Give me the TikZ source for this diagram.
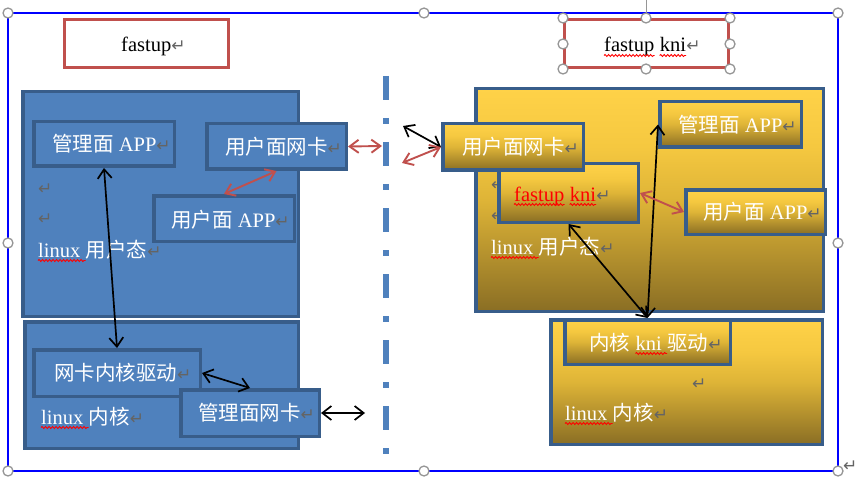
\documentclass[tikz,border=0pt]{standalone}
\usepackage{fontspec}
\setmainfont{Liberation Serif}
\newfontfamily\cjkf{Noto Sans CJK SC}
\newfontfamily\pilfam{DejaVu Sans}
\usetikzlibrary{arrows.meta,decorations.pathmorphing}
\definecolor{lfill}{RGB}{79,129,189}
\definecolor{lborder}{RGB}{56,93,138}
\definecolor{wred}{RGB}{192,80,77}
\definecolor{pilgray}{RGB}{100,100,100}
\definecolor{hgray}{RGB}{150,150,150}
\definecolor{gtop}{RGB}{255,210,72}
\definecolor{gup}{RGB}{245,200,64}
\definecolor{gmid}{RGB}{222,180,55}
\definecolor{gbot}{RGB}{138,110,36}
\pgfdeclareverticalshading{goldgrad}{100bp}{color(0bp)=(gbot); color(25bp)=(gbot); color(50bp)=(gmid); color(62bp)=(gup); color(75bp)=(gtop); color(100bp)=(gtop)}
\newcommand\pil{{\pilfam\fontsize{17}{19}\selectfont\textcolor{pilgray}{↵}}}
\newcommand\zh[1]{{\cjkf #1}}
\newcommand\wsp{\kern5.1pt}
\begin{document}
\begin{tikzpicture}[x=1pt,y=-1pt,
  lbox/.style={draw=lborder, fill=lfill, line width=3.5pt, inner sep=0pt},
  gbox/.style={draw=lborder, shading=goldgrad, line width=3.5pt, inner sep=0pt},
  rbox/.style={draw=wred, fill=white, line width=3pt, inner sep=0pt},
  txt/.style={inner sep=0pt, anchor=base west, text=white, font=\fontsize{20.5}{24}\selectfont},
  pnode/.style={inner sep=0pt, anchor=base west, text=pilgray, font=\pilfam\fontsize{17}{19}\selectfont},
  squig/.style={draw=red, line width=0.9pt, decorate, decoration={snake, amplitude=1pt, segment length=3.5pt}},
  barrow/.style={draw=black, line width=1.7pt, {Straight Barb[length=9pt,width=14pt]}-{Straight Barb[length=9pt,width=14pt]}},
  rarrow/.style={draw=wred, line width=1.9pt, {Straight Barb[length=9pt,width=13pt]}-{Straight Barb[length=9pt,width=13pt]}},
  handle/.style={draw=hgray, fill=white, line width=1.3pt},
  divider/.style={draw=lfill, line width=6pt, dash pattern=on 24pt off 18pt on 6pt off 18pt}
]
\useasboundingbox (0,0) rectangle (857,484);

% canvas frame
\draw[blue, line width=2pt] (8,13) rectangle (838,471);

% titles
\node[rbox, minimum width=164pt, minimum height=48pt] (fastup) at (146.5,43.5) {};
\node[txt, text=black] (tfastup) at (121,52) {fastup\pil};
\draw[hgray, line width=1pt] (646,0) -- (646,18);
\node[rbox, minimum width=164pt, minimum height=48pt] (fastupkni) at (646.5,43.5) {};
\node[txt, text=black] (tfk1) at (604,52) {fastup};
\node[txt, text=black] (tfk2) at ([xshift=5.1pt]tfk1.base east) {kni};
\node[pnode] (tfk3) at (tfk2.base east) {↵};
\draw[squig] ([yshift=-3.5pt]tfk1.base west) -- ([yshift=-3.5pt]tfk1.base east);
\draw[squig] ([yshift=-3.5pt]tfk2.base west) -- ([yshift=-3.5pt]tfk2.base east);

% divider
\coordinate (divtop) at (386,76);
\coordinate (divbot) at (386,454);
\draw[divider] (divtop) -- (divbot);

% left side
\node[lbox, minimum width=275.5pt, minimum height=224.5pt] (luser) at (160.5,204) {};
\node[lbox, minimum width=273.5pt, minimum height=126.5pt] (lkern) at (161.5,385) {};
\node[lbox, minimum width=140.5pt, minimum height=44.5pt] (lmapp) at (104,144) {};
\node[lbox, minimum width=139.5pt, minimum height=45.5pt] (lunic) at (276.5,146.5) {};
\node[lbox, minimum width=140.5pt, minimum height=45.5pt] (luapp) at (224,218.5) {};
\node[lbox, minimum width=166.5pt, minimum height=46.5pt] (ldrv) at (117,373) {};
\node[lbox, minimum width=138.5pt, minimum height=46.5pt] (lmnic) at (250,413) {};

\node[txt] (tlmapp) at (52,152) {\zh{管理面} APP\pil};
\node[txt] (tlunic) at (225,154) {\zh{用户面网卡}\pil};
\node[txt] (tluapp) at (171,227) {\zh{用户面} APP\pil};
\node[pnode] (pl1) at (38,194) {↵};
\node[pnode] (pl2) at (38,224) {↵};
\node[txt] (tlu1) at (38,257) {linux\wsp};
\node[txt] (tlu2) at (tlu1.base east) {\zh{用户态}\pil};
\draw[squig] ([yshift=-3.5pt]tlu1.base west) -- ([yshift=-3.5pt]tlu1.base east);
\node[txt] (tldrv) at (54,380) {\zh{网卡内核驱动}\pil};
\node[txt] (tlmnic) at (198,420) {\zh{管理面网卡}\pil};
\node[txt] (tlk1) at (41,424) {linux\wsp};
\node[txt] (tlk2) at (tlk1.base east) {\zh{内核}\pil};
\draw[squig] ([yshift=-3.5pt]tlk1.base west) -- ([yshift=-3.5pt]tlk1.base east);

% right side
\node[gbox, minimum width=347.5pt, minimum height=222.5pt] (ruser) at (649.5,200) {};
\node[gbox, minimum width=271.5pt, minimum height=124.5pt] (rkern) at (686.5,382) {};
\node[gbox, minimum width=141.5pt, minimum height=45.5pt] (rmapp) at (730.5,124.5) {};
\node[gbox, minimum width=139.5pt, minimum height=44.5pt] (ruapp) at (755.5,212) {};
\node[pnode] (pr1) at (491,190) {↵};
\node[pnode] (pr2) at (491,221) {↵};
\node[gbox, minimum width=139.5pt, minimum height=58.5pt] (rkni) at (568.5,193) {};
\node[gbox, minimum width=140.5pt, minimum height=46.5pt] (runic) at (513,147) {};
\node[gbox, minimum width=165.5pt, minimum height=44.5pt] (rdrv) at (647.5,342) {};

\node[txt] (trunic) at (462,155) {\zh{用户面网卡}\pil};
\node[txt, text=red] (trk1) at (514,201) {fastup};
\node[txt, text=red] (trk2) at ([xshift=5.1pt]trk1.base east) {kni};
\node[pnode] (trk3) at (trk2.base east) {↵};
\draw[squig] ([yshift=-3.5pt]trk1.base west) -- ([yshift=-3.5pt]trk1.base east);
\draw[squig] ([yshift=-3.5pt]trk2.base west) -- ([yshift=-3.5pt]trk2.base east);
\node[txt] (trmapp) at (678,133) {\zh{管理面} APP\pil};
\node[txt] (truapp) at (703,219) {\zh{用户面} APP\pil};
\node[txt] (tru1) at (491,254) {linux\wsp};
\node[txt] (tru2) at (tru1.base east) {\zh{用户态}\pil};
\draw[squig] ([yshift=-3.5pt]tru1.base west) -- ([yshift=-3.5pt]tru1.base east);
\node[txt] (trd1) at (589,350) {\zh{内核}\wsp};
\node[txt] (trd2) at (trd1.base east) {kni\wsp};
\node[txt] (trd3) at (trd2.base east) {\zh{驱动}\pil};
\draw[squig] ([yshift=-3.5pt]trd2.base west) -- ([yshift=-3.5pt]trd2.base east);
\node[pnode] (pr3) at (692,389) {↵};
\node[txt] (trk1b) at (565,420) {linux\wsp};
\node[txt] (trk2b) at (trk1b.base east) {\zh{内核}\pil};
\draw[squig] ([yshift=-3.5pt]trk1b.base west) -- ([yshift=-3.5pt]trk1b.base east);

% connectors
\coordinate (lfree) at (365,413);
\coordinate (lfree2) at (382,146);
\coordinate (mfree1) at (403,126);
\coordinate (mfree2) at (402,163);
\draw[barrow] (lmapp.south) -- (ldrv.north);
\draw[rarrow] (lunic.south) -- (luapp.north);
\draw[barrow] (ldrv.east) -- (lmnic.north);
\draw[barrow] (lmnic.east) -- (lfree);
\draw[rarrow] (lunic.east) -- (lfree2);
\draw[barrow] (mfree1) -- (runic.west);
\draw[rarrow] (mfree2) -- (runic.west);
\draw[barrow] (rmapp.west) -- (rdrv.north);
\draw[barrow] (rkni.south) -- (rdrv.north);
\draw[rarrow] (rkni.east) -- (ruapp.west);

% selection handles
\foreach \hx/\hy in {8/13,424/13,838/13,8/243,838/243,8/471,424/471,838/471,563/18,646/18,730/18,563/44,730/44,563/69,646/69,730/69}
  \draw[handle] (\hx,\hy) circle (5pt);
\node[pnode] (pend) at (843,471) {↵};
\end{tikzpicture}
\end{document}
